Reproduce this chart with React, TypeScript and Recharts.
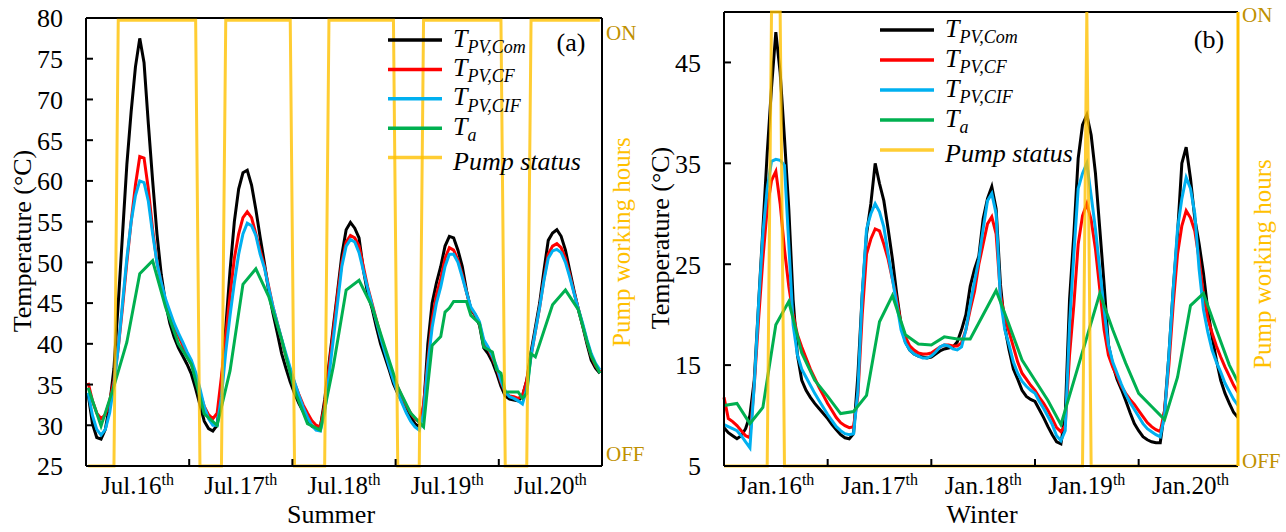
import React from 'react';
import { LineChart, Line, XAxis, YAxis, Legend, ReferenceLine } from 'recharts';

const FONT = '"Liberation Serif", "Times New Roman", Times, serif';
const GOLD = '#FFC000';
const GOLD_DARK = '#BF9000';

// ---------- Summer, Jul.16 - Jul.20, hourly values (plotted mid-hour)
const summerDays = ['Jul.16', 'Jul.17', 'Jul.18', 'Jul.19', 'Jul.20'];
const summerTicks = [25, 30, 35, 40, 45, 50, 55, 60, 65, 70, 75, 80];

const summerCom = [
  33.8, 30.2, 28.5, 28.3, 29.5, 32.5, 37, 45, 53.5, 62, 68.5, 74, 77.5, 74.5, 67, 60, 53.5, 48.5, 45, 42.5, 40.8, 39.5, 38.5, 37.5,
  36.3, 34.5, 32.5, 30.5, 29.6, 29.3, 30, 35, 42, 49, 55, 59, 61, 61.3, 59.5, 56.5, 53.1, 49.9, 46.4, 43.7, 41.3, 38.8, 37, 35.3,
  33.9, 32.7, 31.7, 30.6, 29.9, 29.6, 29.8, 33.1, 37.5, 42, 46.4, 50.9, 54, 54.9, 54.2, 53, 49.1, 46.2, 44.4, 42.1, 40, 38.4, 36.8, 35.1,
  33.9, 32.9, 31.9, 31, 30.2, 29.8, 32, 40, 45, 47.5, 49.5, 52, 53.2, 53, 51.5, 49.5, 46.5, 44.2, 43.5, 42.3, 39.5, 38.8, 37.8, 36.4,
  34.8, 33.6, 33.2, 33.1, 33, 33.6, 35.5, 39, 42, 45, 49, 52.7, 53.6, 54, 53.2, 51.5, 49, 46.5, 44.2, 42.2, 40, 38, 37, 36.4,
];
const summerCF = [
  35.2, 33, 31.5, 30.8, 31.3, 33, 35.5, 39.5, 44.5, 50, 55, 59.5, 63, 62.8, 59, 54, 50, 47.5, 45, 43.5, 42, 41, 39.8, 38.5,
  37.5, 36, 34, 32.3, 31.3, 30.8, 31.5, 36, 41, 46, 50.5, 53.5, 55.5, 56.2, 55.5, 53.5, 51.5, 49.5, 47, 44.5, 42.5, 40.5, 38.5, 36.8,
  35.2, 33.8, 32.5, 31.5, 30.6, 30, 29.8, 32.5, 37, 41.5, 46, 50, 52.5, 53.3, 53, 52, 49.5, 47, 45, 43, 41, 39.3, 37.6, 36,
  34.7, 33.5, 32.4, 31.5, 30.8, 30.4, 32.5, 38, 43, 46, 48, 50.5, 51.8, 51.5, 50.3, 48.5, 46.3, 44.3, 43.6, 42.5, 40.2, 39.4, 38.3, 37,
  35.3, 34, 33.6, 33.5, 33.3, 33.6, 35.5, 38.5, 41.5, 44.5, 48, 51, 52, 52.3, 51.8, 50.5, 48.5, 46.3, 44.3, 42.3, 40.3, 38.5, 37.3, 36.6,
];
const summerCIF = [
  34, 31.2, 29.5, 28.8, 29.5, 31.5, 35, 39.5, 45, 50.5, 55, 58.2, 60, 59.8, 57.5, 53.5, 50, 47.5, 45.5, 44, 42.5, 41.3, 40.2, 39,
  38, 36.5, 34.5, 32.3, 30.8, 30, 30, 33.5, 39, 43.5, 47.5, 51, 53.5, 54.8, 54.5, 53.3, 51, 49.3, 46.8, 44.5, 42.5, 40.6, 38.8, 37,
  35.3, 33.7, 32.2, 31, 30, 29.4, 29.3, 31.5, 36, 40.5, 45, 49.5, 52, 52.8, 52.5, 51.2, 49, 46.8, 44.8, 42.8, 40.8, 39, 37.2, 35.5,
  34, 32.7, 31.5, 30.5, 29.8, 29.4, 31.5, 37.5, 42, 45, 47, 49.5, 51, 51, 50, 48.2, 46.3, 44.5, 43.7, 42.7, 40.5, 39.6, 38.5, 37.2,
  35.5, 34.1, 33.5, 33.3, 33, 32.6, 34.5, 38.5, 41.5, 44.5, 47.8, 50.5, 51.4, 51.6, 51.2, 50, 48.2, 46.2, 44.3, 42.5, 40.5, 38.8, 37.6, 36.8,
];
// ambient temperature is only recorded at some hours
const summerTaHours = [
  0, 3, 6, 9, 12, 15, 18, 21, 24, 27, 30, 33, 36, 39, 42, 45, 48, 51, 54, 57, 60, 63, 66, 69, 72, 75, 78, 79, 80, 82,
  83, 84, 85, 88, 89, 91, 92, 94, 95, 96, 97, 100, 101, 102, 103, 104, 108, 111, 114, 116, 117, 119,
];
const summerTa = [
  34.6, 29.9, 34.8, 40.2, 48.6, 50.2, 44.5, 40, 37.5, 31.4, 30, 36.7, 47.3, 49.2, 45.8, 40.5, 34.3, 30.2, 29.4, 37.2, 46.6, 47.8, 44.6, 39.6, 34.7, 31.5, 29.8, 35, 39.8, 40.9,
  43.9, 44.4, 45.2, 45.2, 43.5, 42.5, 39.6, 39, 36.8, 36.4, 34.1, 34.1, 33.3, 33.9, 38.8, 38.4, 44.8, 46.6, 44.2, 40.3, 38.5, 36.4,
];
const summerPumpOn = [[7, 25], [32, 47], [56, 71], [78, 96], [103, 119]];

// ---------- Winter, Jan.16 - Jan.20, hourly values (plotted on the hour)
const winterDays = ['Jan.16', 'Jan.17', 'Jan.18', 'Jan.19', 'Jan.20'];
const winterTicks = [5, 15, 25, 35, 45];

const winterCom = [
  8.8, 8.3, 8, 7.7, 8, 8.7, 10, 13.5, 21, 28.5, 36, 42.5, 48, 44, 37.5, 30.5, 21.5, 16, 13.5, 12.5, 11.8, 11.2, 10.7, 10.2,
  9.7, 9.1, 8.6, 8.1, 7.8, 7.7, 8.2, 14, 22, 28, 31, 35, 33, 31.3, 28.5, 25.5, 22, 19, 17.3, 16.5, 16.1, 15.9, 15.8, 15.7,
  15.8, 16.1, 16.4, 16.6, 16.7, 16.8, 17.3, 18.5, 20, 22.8, 24.5, 25.8, 29.5, 31.5, 32.7, 30.5, 23, 18.8, 16.5, 14.6, 13.6, 12.5, 11.9, 11.6,
  11.4, 10.6, 9.8, 8.9, 8.1, 7.4, 7.2, 10, 21.5, 28, 35.5, 38.8, 39.8, 37.8, 34, 28.5, 23, 17, 15, 13.6, 12.6, 11.5, 10.3, 9.2,
  8.5, 7.9, 7.6, 7.4, 7.3, 7.3, 10.5, 16, 22.5, 28, 35, 36.6, 33.5, 29.5, 27, 24.1, 20.5, 17.8, 15.5, 13.5, 12.2, 11.2, 10.3, 9.8,
];
const winterCF = [
  11.8, 9.7, 9.4, 9, 8.5, 8, 7.8, 13, 19.5, 25.5, 30.5, 33.3, 34.2, 31, 26.5, 22.8, 20, 18, 16.8, 15.7, 14.6, 13.7, 12.8, 12,
  11.2, 10.5, 9.8, 9.3, 9, 8.8, 8.9, 12, 20, 26, 27.5, 28.5, 28.3, 27, 25.5, 23.5, 21.5, 19, 17.8, 16.9, 16.5, 16.2, 16.1, 16.1,
  16.2, 16.5, 16.8, 17, 17, 16.9, 16.9, 17.2, 18.5, 20.5, 22.3, 25, 27, 29, 29.7, 28, 22, 19.8, 18.3, 16.8, 15.3, 14.2, 13.6, 13,
  12.5, 11.8, 11.2, 10.5, 9.7, 8.8, 8.4, 9, 16, 21, 27, 29.8, 31, 29.4, 26.5, 22.5, 18.5, 16, 14.8, 13.9, 12.9, 12.2, 11.6, 11.1,
  10.5, 9.9, 9.3, 8.9, 8.6, 8.4, 10.5, 15, 21, 26, 28.8, 30.3, 29.6, 28.3, 25.5, 22, 19.6, 18.2, 16.9, 15.8, 14.8, 13.9, 13, 12.3,
];
const winterCIF = [
  9.1, 8.9, 8.7, 8.5, 8, 7.4, 6.8, 13, 21, 28, 32.5, 35.2, 35.4, 35.3, 34.8, 27, 19, 16, 14.6, 13.8, 13, 12.2, 11.5, 10.8,
  10.1, 9.5, 8.9, 8.5, 8.2, 8.1, 8.2, 12.5, 22, 28.5, 30, 31, 30.2, 28.7, 26, 23.5, 21, 18.5, 17.2, 16.5, 16.1, 15.9, 15.7, 15.7,
  15.9, 16.3, 16.8, 17, 16.9, 16.6, 16.5, 16.8, 18.5, 21, 23.3, 25.5, 28.5, 31.3, 32, 30, 21.5, 18.5, 17, 15.3, 14.2, 13.4, 12.9, 12.5,
  12.2, 11.4, 10.7, 9.9, 9.1, 8, 7.5, 8.5, 19, 26, 32.5, 34, 35, 31.8, 28.5, 24.5, 20.5, 17, 15.3, 14.2, 13.1, 12.1, 11.3, 10.6,
  9.9, 9.2, 8.7, 8.4, 8.1, 7.9, 10, 16, 22.5, 28.5, 31.5, 33.6, 32.5, 30, 24.5, 20.5, 18.3, 16.5, 15.3, 14.3, 13.2, 12.4, 11.6, 11,
];
const winterTaHours = [
  0, 3, 6, 9, 12, 15, 18, 21, 24, 27, 30, 33, 36, 39, 42, 45, 48, 51, 54, 57, 63, 66, 69, 72, 75, 78,
  87, 90, 93, 96, 99, 102, 105, 108, 111, 114, 117, 119,
];
const winterTa = [
  11, 11.2, 9.2, 10.8, 19, 21.3, 16.2, 13.5, 11.9, 10.2, 10.4, 12, 19.3, 21.9, 18, 17.1, 17, 17.8, 17.6, 17.6, 22.4, 19, 15.5, 13.5, 11.5, 9.1,
  22.1, 18.5, 15.2, 12.2, 10.9, 9.6, 13.8, 20.9, 22.1, 18.5, 15, 13.3,
];
const winterPumpOn = [[11, 13], [84, 84]];

const SERIES = [
  { key: 'com', color: '#000000', main: 'T', sub: 'PV,Com' },
  { key: 'cf', color: '#FF0000', main: 'T', sub: 'PV,CF' },
  { key: 'cif', color: '#00B0F0', main: 'T', sub: 'PV,CIF' },
  { key: 'ta', color: '#00B050', main: 'T', sub: 'a' },
  { key: 'pump', color: GOLD, main: 'Pump status', sub: '' },
];

function buildRows(offset, com, cf, cif, taHours, ta, pumpOn) {
  return com.map((v, i) => {
    const k = taHours.indexOf(i);
    return {
      h: i + offset,
      com: v,
      cf: cf[i],
      cif: cif[i],
      ta: k >= 0 ? ta[k] : null,
      pump: pumpOn.some(([a, b]) => i >= a && i <= b) ? 1 : 0,
    };
  });
}

const summerRows = buildRows(0.5, summerCom, summerCF, summerCIF, summerTaHours, summerTa, summerPumpOn);
const winterRows = buildRows(0, winterCom, winterCF, winterCIF, winterTaHours, winterTa, winterPumpOn);

function DayTick({ x, y, payload, days }) {
  const v = payload.value;
  if (v % 24 === 0) {
    return <line x1={x} x2={x} y1={y} y2={y - 7} stroke="#000" strokeWidth={2} />;
  }
  return (
    <text x={x} y={y + 28} textAnchor="middle" fontFamily={FONT} fontSize={25} fill="#000">
      {days[Math.floor(v / 24)]}
      <tspan dy={-9} fontSize={16}>th</tspan>
    </text>
  );
}

function TempTick({ x, y, payload }) {
  return (
    <g>
      <line x1={x} x2={x + 7} y1={y} y2={y} stroke="#000" strokeWidth={2} />
      <text x={x - 23} y={y} dy="0.36em" textAnchor="end" fontFamily={FONT} fontSize={26} fill="#000">
        {payload.value}
      </text>
    </g>
  );
}

function PumpTick({ x, y, payload, onDy, offDy }) {
  const on = payload.value > 0.5;
  return (
    <text x={x + 4} y={y + (on ? onDy : offDy)} dy="0.36em" fontFamily={FONT} fontSize={21} fill={GOLD_DARK}>
      {on ? 'ON' : 'OFF'}
    </text>
  );
}

function LegendBox({ swatchX, textX, rowY, gap, tag, tagX, tagY }) {
  return (
    <svg width={400} height={200} style={{ overflow: 'visible' }}>
      {SERIES.map((s, k) => {
        const y = rowY + k * gap;
        return (
          <g key={s.key}>
            <line x1={swatchX} x2={swatchX + 54} y1={y} y2={y} stroke={s.color}
              strokeOpacity={s.key === 'pump' ? 0.8 : 1} strokeWidth={3.5} />
            {s.sub ? (
              <text x={textX} y={y + 6.5} fontFamily={FONT} fontStyle="italic" fontSize={26} fill="#000">
                {s.main}
                <tspan dy={6.5} fontSize={18}>{s.sub}</tspan>
              </text>
            ) : (
              <text x={textX} y={y + 12} fontFamily={FONT} fontStyle="italic" fontSize={26} fill="#000">
                {s.main}
              </text>
            )}
          </g>
        );
      })}
      <text x={tagX} y={tagY} textAnchor="middle" fontFamily={FONT} fontSize={26} fill="#000">{tag}</text>
    </svg>
  );
}

function Panel(p) {
  const xTicks = [12, 24, 36, 48, 60, 72, 84, 96, 108];
  const lx = p.legend.swatch - 10;
  const ly = p.legend.row - 25;
  return (
    <div style={{ position: 'absolute', left: p.left, top: 0 }}>
      <LineChart width={p.width} height={532} data={p.rows} margin={{ top: p.top, right: 0, bottom: 0, left: 0 }}>
        <XAxis
          dataKey="h"
          type="number"
          domain={[0, p.xMax]}
          ticks={xTicks}
          interval={0}
          height={66}
          tickSize={0}
          tickMargin={0}
          tickLine={false}
          axisLine={{ stroke: '#000', strokeWidth: 2 }}
          tick={(t) => <DayTick {...t} days={p.days} />}
          label={{
            content: () => (
              <text x={p.xTitleX} y={523} textAnchor="middle" fontFamily={FONT} fontSize={26} fill="#000">
                {p.season}
              </text>
            ),
          }}
        />
        <YAxis
          yAxisId="temp"
          type="number"
          domain={p.tempDomain}
          ticks={p.tempTicks}
          interval={0}
          width={p.leftW}
          tickSize={0}
          tickMargin={0}
          tickLine={false}
          axisLine={{ stroke: '#000', strokeWidth: 2 }}
          tick={(t) => <TempTick {...t} />}
          label={{
            content: () => (
              <text x={p.yTitle[0]} y={p.yTitle[1]} transform={`rotate(-90, ${p.yTitle[0]}, ${p.yTitle[1]})`}
                textAnchor="middle" fontFamily={FONT} fontSize={26} fill="#000">
                Temperature (°C)
              </text>
            ),
          }}
        />
        <YAxis
          yAxisId="pump"
          orientation="right"
          type="number"
          domain={[0, p.pumpMax]}
          ticks={[0, 1]}
          interval={0}
          width={p.rightW}
          tickSize={0}
          tickMargin={0}
          tickLine={false}
          axisLine={{ stroke: p.rightAxisColor, strokeWidth: p.rightAxisWidth }}
          tick={(t) => <PumpTick {...t} onDy={p.onDy} offDy={p.offDy} />}
          label={{
            content: () => (
              <text x={p.pumpTitle[0]} y={p.pumpTitle[1]} transform={`rotate(-90, ${p.pumpTitle[0]}, ${p.pumpTitle[1]})`}
                textAnchor="middle" fontFamily={FONT} fontSize={25} fill={GOLD}>
                Pump working hours
              </text>
            ),
          }}
        />
        <ReferenceLine yAxisId="temp" y={p.tempDomain[1]} stroke="#000" strokeWidth={2} />
        {SERIES.slice(0, 4).map((s) => (
          <Line key={s.key} yAxisId="temp" type="linear" dataKey={s.key} stroke={s.color} strokeWidth={3}
            dot={false} activeDot={false} connectNulls isAnimationActive={false} />
        ))}
        <Line yAxisId="pump" type="linear" dataKey="pump" stroke={GOLD} strokeOpacity={0.8} strokeWidth={3}
          dot={false} activeDot={false} isAnimationActive={false} />
        <Legend
          layout="vertical"
          align="center"
          verticalAlign="middle"
          wrapperStyle={{ left: lx, top: ly, width: 400, height: 200 }}
          content={() => (
            <LegendBox swatchX={10} textX={p.legend.text - lx} rowY={25} gap={p.legend.gap}
              tag={p.tag} tagX={p.tagPos[0] - lx} tagY={p.tagPos[1] - ly} />
          )}
        />
      </LineChart>
    </div>
  );
}

export default function App() {
  return (
    <div style={{ position: 'absolute', left: 0, top: 0, width: 1286, height: 532, background: '#fff' }}>
      <Panel
        left={0}
        width={660}
        top={18}
        leftW={86}
        rightW={58}
        rows={summerRows}
        xMax={120}
        days={summerDays}
        season="Summer"
        tempDomain={[25, 80]}
        tempTicks={summerTicks}
        pumpMax={1.005}
        onDy={12}
        offDy={-13}
        rightAxisColor="#000"
        rightAxisWidth={2}
        xTitleX={331}
        yTitle={[31, 241]}
        pumpTitle={[630, 242]}
        legend={{ swatch: 388, text: 453, row: 40, gap: 29.4 }}
        tag="(a)"
        tagPos={[571, 51]}
      />
      <Panel
        left={643}
        width={643}
        top={12}
        leftW={81}
        rightW={48}
        rows={winterRows}
        xMax={119}
        days={winterDays}
        season="Winter"
        tempDomain={[5, 50]}
        tempTicks={winterTicks}
        pumpMax={1}
        onDy={2.5}
        offDy={-6}
        rightAxisColor={GOLD}
        rightAxisWidth={3}
        xTitleX={339}
        yTitle={[26, 238]}
        pumpTitle={[628, 264]}
        legend={{ swatch: 237, text: 302, row: 30, gap: 30 }}
        tag="(b)"
        tagPos={[566, 48]}
      />
    </div>
  );
}
